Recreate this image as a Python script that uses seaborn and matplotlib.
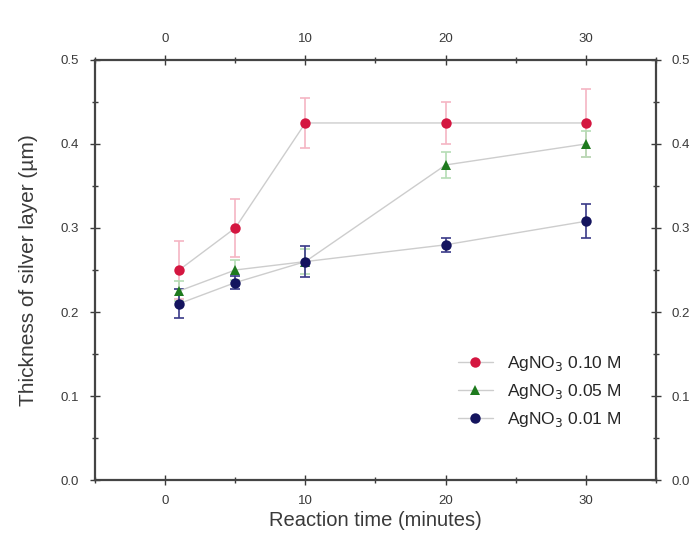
import numpy as np
import pandas as pd
import matplotlib
matplotlib.use("Agg")
import matplotlib.pyplot as plt
import seaborn as sns
from matplotlib.ticker import MultipleLocator

# Reaction times (minutes) and measured silver layer thickness (µm)
times = [1, 5, 10, 20, 30]
series_names = ["AgNO$_3$ 0.10 M", "AgNO$_3$ 0.05 M", "AgNO$_3$ 0.01 M"]
thick_010 = [0.25, 0.30, 0.425, 0.425, 0.425]
thick_005 = [0.225, 0.25, 0.26, 0.375, 0.40]
thick_001 = [0.21, 0.235, 0.26, 0.28, 0.308]
err_010 = [0.035, 0.035, 0.03, 0.025, 0.04]
err_005 = [0.012, 0.012, 0.015, 0.015, 0.015]
err_001 = [0.017, 0.008, 0.018, 0.008, 0.02]

x_ticks = [0, 10, 20, 30]
y_ticks = [0.0, 0.1, 0.2, 0.3, 0.4, 0.5]

sns.set_theme(style="ticks")
plt.rcParams["font.family"] = ["Liberation Sans", "DejaVu Sans"]

df = pd.DataFrame({
    "time": times * 3,
    "thickness": thick_010 + thick_005 + thick_001,
    "series": sum([[n] * len(times) for n in series_names], []),
})

colors = ["#d41640", "#1e7a1e", "#14145e"]
err_colors = ["#f5b5c3", "#b5ddb5", "#3a3a88"]
markers = ["o", "^", "o"]
palette = dict(zip(series_names, colors))
marker_map = dict(zip(series_names, markers))

fig = plt.figure(figsize=(6.96, 5.40), dpi=100)
ax = fig.add_axes([0.1365, 0.111, 0.806, 0.778])

sns.lineplot(data=df, x="time", y="thickness", hue="series", style="series",
             palette=palette, markers=marker_map, dashes=False,
             markersize=7.5, markeredgewidth=0, linewidth=1.0, ax=ax, zorder=3)

# light grey connecting lines, coloured markers
for line, c in zip(list(ax.get_lines()), colors):
    line.set_color("#cdcdcd")
    line.set_markerfacecolor(c)
    line.set_markeredgecolor(c)

for vals, errs, ecol in zip([thick_010, thick_005, thick_001],
                            [err_010, err_005, err_001], err_colors):
    ax.errorbar(times, vals, yerr=errs, fmt="none", ecolor=ecol,
                elinewidth=1.2, capsize=3.5, capthick=1.2, zorder=2)

ax.set_xlim(-5, 35)
ax.set_ylim(0, 0.5)
ax.set_xticks(x_ticks)
ax.set_yticks(y_ticks)
ax.set_yticklabels([f"{v:.1f}" for v in y_ticks])
ax.xaxis.set_minor_locator(MultipleLocator(5))
ax.yaxis.set_minor_locator(MultipleLocator(0.05))
ax.tick_params(which="both", direction="inout", top=True, right=True,
               labeltop=True, labelright=True, labelsize=9.5, colors="#3a3a3a",
               width=1.0)
ax.tick_params(which="major", length=7)
ax.tick_params(which="minor", length=4)
ax.tick_params(axis="x", which="major", pad=7)
ax.tick_params(axis="y", which="major", pad=8)
for sp in ax.spines.values():
    sp.set_visible(True)
    sp.set_linewidth(1.6)
    sp.set_color("#444444")

ax.set_xlabel("Reaction time (minutes)", fontsize=14.5, color="#3a3a3a", labelpad=3)
ax.set_ylabel("Thickness of silver layer (\u00b5m)", fontsize=15, color="#3a3a3a", labelpad=16)

handles, labels = ax.get_legend_handles_labels()
for h, c in zip(handles, colors):
    h.set_color("#cdcdcd")
    h.set_markerfacecolor(c)
    h.set_markeredgecolor(c)
ax.legend(handles, labels, loc="lower right", frameon=False, fontsize=12.5,
          handlelength=2.0, handletextpad=0.8, bbox_to_anchor=(0.965, 0.085),
          labelspacing=0.5)

fig.savefig("out.png", dpi=100)
